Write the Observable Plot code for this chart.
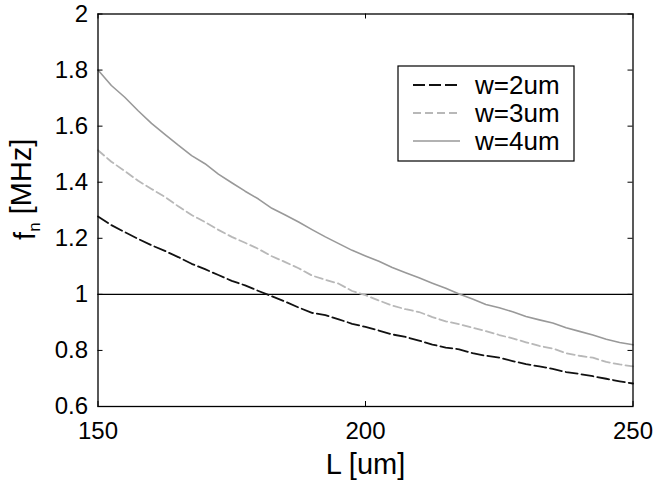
<!DOCTYPE html>
<html><head><meta charset="utf-8">
<script src="https://cdn.jsdelivr.net/npm/d3@7"></script>
<script src="https://cdn.jsdelivr.net/npm/@observablehq/plot@0.6"></script>
<style>
body{margin:0;background:#fff}
svg{font-family:"Liberation Sans",Arial,Helvetica,sans-serif}
</style>
</head><body><div id="chart"></div>
<script>
// Beam length L [um]
const L = [150,152.5,155,157.5,160,162.5,165,167.5,170,172.5,175,177.5,180,182.5,185,187.5,190,192.5,195,197.5,200,
           202.5,205,207.5,210,212.5,215,217.5,220,222.5,225,227.5,230,232.5,235,237.5,240,242.5,245,247.5,250];
// natural frequency f_n [MHz] for each width
const fW2 = [1.278,1.247,1.222,1.198,1.175,1.155,1.133,1.109,1.090,1.069,1.048,1.032,1.012,0.993,0.974,0.953,0.934,0.926,0.911,0.895,0.884,
             0.871,0.857,0.848,0.835,0.821,0.810,0.804,0.790,0.781,0.774,0.762,0.751,0.743,0.734,0.723,0.716,0.708,0.699,0.690,0.682];
const fW3 = [1.514,1.473,1.440,1.405,1.376,1.348,1.314,1.283,1.258,1.230,1.205,1.184,1.162,1.136,1.115,1.093,1.067,1.052,1.038,1.012,0.997,
             0.978,0.960,0.947,0.937,0.919,0.904,0.894,0.881,0.869,0.855,0.843,0.829,0.816,0.807,0.790,0.781,0.774,0.759,0.750,0.743];
const fW4 = [1.800,1.745,1.703,1.655,1.610,1.571,1.532,1.495,1.466,1.429,1.398,1.368,1.340,1.307,1.283,1.258,1.231,1.205,1.181,1.157,1.137,
             1.118,1.096,1.077,1.059,1.040,1.022,1.001,0.983,0.964,0.952,0.938,0.921,0.909,0.898,0.881,0.868,0.855,0.840,0.828,0.820];
const seriesNames = ["w=2um","w=3um","w=4um"];
const xTicks = [150,200,250];
const yTicks = [0.6,0.8,1,1.2,1.4,1.6,1.8,2];
const refLevel = [1];
const xLabel = "L [um]";
const yLabel = "f_n [MHz]";

const seriesValues = [fW2, fW3, fW4];
const data = [];
seriesValues.forEach((arr, i) => arr.forEach((v, j) => data.push({L: L[j], f: v, w: seriesNames[i]})));

const styles = {
  "w=2um": {stroke: "#111", dash: "12,4", width: 1.8},
  "w=3um": {stroke: "#b8b8b8", dash: "8,4", width: 1.8},
  "w=4um": {stroke: "#999", dash: null, width: 1.6}
};

const W = 656, H = 483, mL = 97.5, mR = 23.5, mT = 13.5, mB = 77;
const fw = W - mL - mR, fh = H - mT - mB, tk = 5;

const plot = Plot.plot({
  width: W, height: H,
  marginLeft: mL, marginRight: mR, marginTop: mT, marginBottom: mB,
  x: {domain: [150, 250]},
  y: {domain: [0.6, 2]},
  marks: [
    Plot.ruleY(refLevel, {stroke: "#000", strokeWidth: 1.1}),
    ...seriesNames.map(n => Plot.line(data.filter(d => d.w === n), {
      x: "L", y: "f", stroke: styles[n].stroke, strokeWidth: styles[n].width,
      strokeDasharray: styles[n].dash
    })),
    Plot.tickX(xTicks, {x: d => d, insetTop: fh - tk, stroke: "#000"}),
    Plot.tickX(xTicks, {x: d => d, insetBottom: fh - tk, stroke: "#000"}),
    Plot.tickY(yTicks, {y: d => d, insetRight: fw - tk, stroke: "#000"}),
    Plot.tickY(yTicks, {y: d => d, insetLeft: fw - tk, stroke: "#000"}),
    Plot.axisX(xTicks, {tickSize: 0, tickPadding: 15, fontSize: 24, label: null, fill: "#000"}),
    Plot.axisY(yTicks, {tickSize: 0, tickPadding: 10, fontSize: 24, label: null, fill: "#000", tickFormat: d => String(d)}),
    Plot.frame({stroke: "#000", strokeWidth: 1.3}),
    Plot.text([xLabel], {frameAnchor: "bottom", dy: 58, fontSize: 29, textAnchor: "middle", lineAnchor: "middle", fill: "#000"}),
    Plot.text([yLabel], {frameAnchor: "left", dx: -72.5, dy: -21, rotate: -90, fontSize: 29, textAnchor: "middle", lineAnchor: "middle", fill: "#000"})
  ]
});
document.getElementById("chart").appendChild(plot);

// subscript in y label
d3.select(plot).selectAll("text").each(function() {
  if (this.textContent === yLabel) {
    const [base, rest] = yLabel.split("_");
    const sub = rest.charAt(0), tail = rest.slice(1);
    const t = d3.select(this);
    t.text(null);
    t.append("tspan").text(base);
    t.append("tspan").attr("font-size", 17).attr("dy", "0.3em").text(sub);
    t.append("tspan").attr("dy", "-0.3em").text(tail);
  }
});

// legend
const lg = d3.select(plot).append("g").attr("text-anchor", "start");
lg.append("rect").attr("x", 398).attr("y", 66).attr("width", 176).attr("height", 95)
  .attr("fill", "#fff").attr("stroke", "#000").attr("stroke-width", 1.2);
seriesNames.forEach((n, i) => {
  const y = 85 + i * 28;
  lg.append("line").attr("x1", 413).attr("x2", 460).attr("y1", y).attr("y2", y)
    .attr("stroke", styles[n].stroke).attr("stroke-width", styles[n].width)
    .attr("stroke-dasharray", styles[n].dash);
  lg.append("text").attr("x", 475).attr("y", y).attr("dy", "0.35em")
    .attr("text-anchor", "start")
    .attr("font-size", 26).attr("fill", "#000").text(n);
});
</script>
</body></html>
